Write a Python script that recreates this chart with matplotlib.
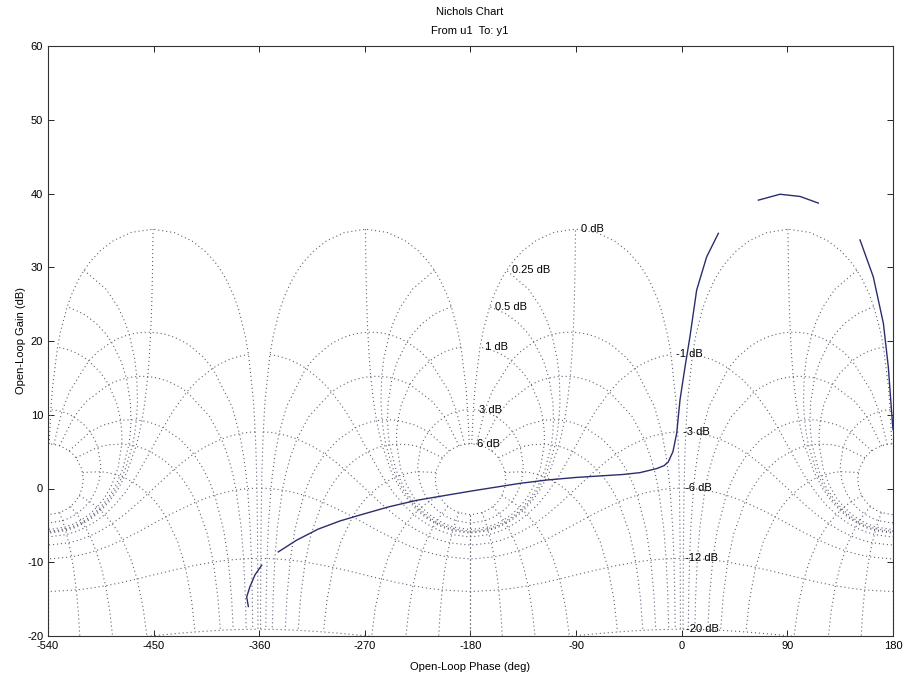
import numpy as np
import matplotlib.pyplot as plt

plt.rcParams['font.family'] = ['Liberation Sans', 'DejaVu Sans']
plt.rcParams['axes.unicode_minus'] = False

# open-loop response (phase in deg, gain in dB); nan = faded part of the scan
ol_phase = [-369.3, -370.7, -367.9, -363.6, -357.9, np.nan,
            -343.8, -328.1, -309.7, -291.2, -274.2, -250.0, -225.8, -200.0, -177.6,
            -137.8, -115.0, -90.0, -70.0, -50.0, -35.6, -21.4, -15.0, -11.5, -7.5,
            -4.3, -1.5, 2.8, 7.0, 12.7, 21.2, 31.2, np.nan,
            65.3, 83.7, 100.8, 116.4, np.nan,
            151.9, 163.2, 171.8, 176.0, 178.9, 180.0]
ol_gain = [-16.0, -14.7, -13.3, -11.7, -10.4, np.nan,
           -8.6, -7.0, -5.5, -4.4, -3.6, -2.5, -1.6, -0.9, -0.3,
           0.7, 1.15, 1.5, 1.7, 1.9, 2.15, 2.7, 3.1, 3.6, 5.0,
           7.5, 12.0, 16.5, 20.6, 26.9, 31.4, 34.6, np.nan,
           39.1, 39.9, 39.6, 38.7, np.nan,
           33.7, 28.7, 22.4, 16.5, 10.2, 8.0]

# Nichols grid settings (closed-loop gains / phases as in MATLAB ngrid)
cl_gains = [6, 3, 1, 0.5, 0.25, 0, -1, -3, -6, -12, -20]
cl_phase_pts = [1, 2, 3, 4, 5, 7.5, 10, 15, 20, 25, 30, 45, 60, 75, 90, 105, 120, 135, 150, 175, 180]
cl_phases = [1, 5, 10, 20, 30, 50, 90, 120, 150, 180]
cl_gain_pts = [6, 3, 2, 1, .75, .5, .4, .3, .25, .2, .15, .1, .05, 0, -.05, -.1, -.15, -.2, -.25,
               -.3, -.4, -.5, -.75, -1, -2, -3, -4, -5, -6, -9, -12, -16, -20]
offsets = [-720, -360, 0]

x_ticks = [-540, -450, -360, -270, -180, -90, 0, 90, 180]
y_ticks = [-20, -10, 0, 10, 20, 30, 40, 50, 60]

grid_col = '#5f6272'
grid_ls = (0, (1, 2.6))

fig = plt.figure(figsize=(9.04, 6.76), dpi=100)
ax = fig.add_axes([48/904, 40/676, 845/904, 590/676])


def to_open_loop(g_db, p_deg):
    z = 10**(np.asarray(g_db)/20) * np.exp(1j*np.deg2rad(p_deg))
    h = z/(1 - z)
    return np.rad2deg(np.angle(h)) % 360, 20*np.log10(np.abs(h))


# isophase lines
gp = np.array(cl_gain_pts)
for p in cl_phases:
    ph, gh = to_open_loop(gp, p)
    for off in offsets:
        ax.plot(ph + off, gh, color=grid_col, ls=grid_ls, lw=0.8)
        ax.plot(360 - ph + off, gh, color=grid_col, ls=grid_ls, lw=0.8)

# isogain lines
pp = np.array(cl_phase_pts)
pp = np.concatenate([pp, 360 - pp[:-1][::-1]])
for g in cl_gains:
    ph, gh = to_open_loop(g, pp)
    for off in offsets:
        ax.plot(ph + off, gh, color=grid_col, ls=grid_ls, lw=0.8)
    ax.text(ph[-1] - 360 + 4.5, gh[-1], f'{g:g} dB', fontsize=8, ha='left', va='center', color='black')

# open-loop curve
ax.plot(ol_phase, ol_gain, color='#2b2d6e', lw=1.0)

ax.set_xlim(-540, 180)
ax.set_ylim(-20, 60)
ax.set_xticks(x_ticks)
ax.set_yticks(y_ticks)
ax.tick_params(direction='in', top=True, right=True, labelsize=8, length=4, width=0.6)
for s in ax.spines.values():
    s.set_linewidth(0.8)
    s.set_color('#333333')

ax.set_xlabel('Open-Loop Phase (deg)', fontsize=8, labelpad=8)
ax.set_ylabel('Open-Loop Gain (dB)', fontsize=8, labelpad=1)
fig.text(470/904, 1 - 12/676, 'Nichols Chart', fontsize=8, ha='center', va='center')
fig.text(470/904, 1 - 31/676, 'From u1  To: y1', fontsize=8, ha='center', va='center')

fig.savefig('out.png', dpi=100)
